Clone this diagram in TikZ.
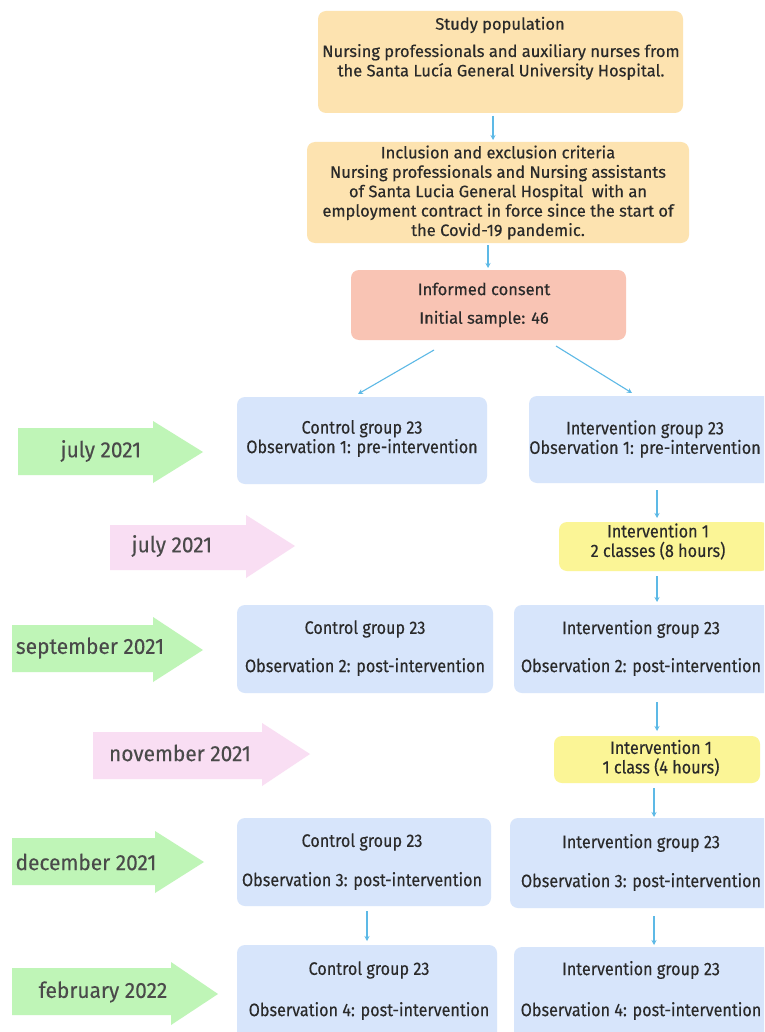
\documentclass[tikz,border=0pt]{standalone}
\usepackage{fontspec}
\setmainfont{Fira Sans}
\newfontfamily\medfont{Fira Sans}[FakeBold=0.4]
\newfontfamily\condfont{Fira Sans}[FakeStretch=0.9,FakeBold=0.25]
\newfontfamily\arrfont{Fira Sans}[FakeStretch=0.95,FakeBold=0.2]
\usetikzlibrary{arrows.meta}
\definecolor{beige}{HTML}{FDE3B0}
\definecolor{salmon}{HTML}{F9C4B4}
\definecolor{bluebox}{HTML}{D7E5FB}
\definecolor{yelbox}{HTML}{FBF596}
\definecolor{greenarr}{HTML}{BFF5B7}
\definecolor{pinkarr}{HTML}{F9DEF3}
\definecolor{connc}{HTML}{5DB9E6}
\definecolor{txtc}{HTML}{2A2A2A}
\begin{document}
\begin{tikzpicture}[x=1pt,y=-1pt,
  boxn/.style={rectangle,rounded corners=8pt,inner sep=0pt,draw=none},
  toptxt/.style={font=\medfont\fontsize{16.5}{19.4}\selectfont,text=txtc,align=center,inner sep=0pt},
  grptxt/.style={font=\condfont\fontsize{18}{19.5}\selectfont,text=txtc,align=center,inner sep=0pt},
  arrtxt/.style={font=\arrfont\fontsize{22}{24}\selectfont,text=txtc!85,inner sep=0pt},
  conn/.style={draw=connc,line width=1.1pt,-{Stealth[length=5pt,width=5pt]}}]
\useasboundingbox (0,0) rectangle (764,1032);
\clip (0,0) rectangle (764,1032);
\fill[white] (0,0) rectangle (764,1032);

% top boxes
\node[boxn,fill=beige,minimum width=365pt,minimum height=102pt] (sp) at (500.5,62) {};
\node[toptxt] (spt) at (500,25) {Study population};
\node[toptxt] (spb) at (501,62) {Nursing professionals and auxiliary nurses from\\the Santa Luc\'{\i}a General University Hospital.};

\node[boxn,fill=beige,minimum width=382pt,minimum height=101pt] (inc) at (498,192.5) {};
\node[toptxt] (inct) at (498,192.5) {Inclusion and exclusion criteria\\Nursing professionals and Nursing assistants\\of Santa Lucia General Hospital\ \ with an\\employment contract in force since the start of\\the Covid-19 pandemic.};

\node[boxn,fill=salmon,minimum width=275pt,minimum height=70pt] (ic) at (488.5,305) {};
\node[toptxt] (ict) at (484,289) {Informed consent};
\node[toptxt] (ics) at (484,319) {Initial sample: 46};

% group boxes row 1
\node[boxn,fill=bluebox,minimum width=250pt,minimum height=87pt] (c1) at (362,440.5) {};
\node[grptxt] (c1t) at (362,438.5) {Control group 23\\Observation 1: pre-intervention};
\node[boxn,fill=bluebox,minimum width=244pt,minimum height=87pt] (i1) at (651,439.5) {};
\node[grptxt] (i1t) at (645,439) {Intervention group 23\\Observation 1: pre-intervention};

% intervention 1
\node[boxn,fill=yelbox,minimum width=210pt,minimum height=49pt] (y1) at (664,546.5) {};
\node[grptxt] (y1t) at (658,541.5) {Intervention 1\\2 classes (8 hours)};

% row 2
\node[boxn,fill=bluebox,minimum width=256pt,minimum height=88pt] (c2) at (365,649) {};
\node[grptxt] (c2a) at (365,629) {Control group 23};
\node[grptxt] (c2b) at (365,667) {Observation 2: post-intervention};
\node[boxn,fill=bluebox,minimum width=268pt,minimum height=88pt] (i2) at (648,649) {};
\node[grptxt] (i2a) at (641,629) {Intervention group 23};
\node[grptxt] (i2b) at (641,667) {Observation 2: post-intervention};

% intervention 2
\node[boxn,fill=yelbox,minimum width=206pt,minimum height=47pt] (y2) at (657,759.5) {};
\node[grptxt] (y2t) at (661,758) {Intervention 1\\1 class (4 hours)};

% row 3
\node[boxn,fill=bluebox,minimum width=254pt,minimum height=88pt] (c3) at (364,862) {};
\node[grptxt] (c3a) at (362,842) {Control group 23};
\node[grptxt] (c3b) at (362,881) {Observation 3: post-intervention};
\node[boxn,fill=bluebox,minimum width=276pt,minimum height=90pt] (i3) at (648,863) {};
\node[grptxt] (i3a) at (641,843) {Intervention group 23};
\node[grptxt] (i3b) at (641,882) {Observation 3: post-intervention};

% row 4
\node[boxn,fill=bluebox,minimum width=260pt,minimum height=100pt] (c4) at (367,995) {};
\node[grptxt] (c4a) at (369,970) {Control group 23};
\node[grptxt] (c4b) at (369,1011) {Observation 4: post-intervention};
\node[boxn,fill=bluebox,minimum width=268pt,minimum height=100pt] (i4) at (648,997) {};
\node[grptxt] (i4a) at (641,970) {Intervention group 23};
\node[grptxt] (i4b) at (641,1011) {Observation 4: post-intervention};

% connectors
\coordinate (sps) at (493,116);
\coordinate (incn) at (493,140);
\draw[conn] (sps) -- (incn);
\coordinate (incs) at (488,245);
\coordinate (icn) at (488,268);
\draw[conn] (incs) -- (icn);
\coordinate (icl) at (434,350);
\coordinate (c1n) at (358,394);
\draw[conn] (icl) -- (c1n);
\coordinate (icr) at (556,346);
\coordinate (i1n) at (632,393);
\draw[conn] (icr) -- (i1n);
\coordinate (i1s) at (657,490);
\coordinate (y1n) at (657,518);
\draw[conn] (i1s) -- (y1n);
\coordinate (y1s) at (657,576);
\coordinate (i2n) at (657,602);
\draw[conn] (y1s) -- (i2n);
\coordinate (i2s) at (657,702);
\coordinate (y2n) at (657,731);
\draw[conn] (i2s) -- (y2n);
\coordinate (y2s) at (654,788);
\coordinate (i3n) at (654,817);
\draw[conn] (y2s) -- (i3n);
\coordinate (c3s) at (367,911);
\coordinate (c4n) at (367,941);
\draw[conn] (c3s) -- (c4n);
\coordinate (i3s) at (654,916);
\coordinate (i4n) at (654,945);
\draw[conn] (i3s) -- (i4n);

% timeline arrows
\fill[greenarr] (18,428) -- (153,428) -- (153,421) -- (203,452) -- (153,483) -- (153,475) -- (18,475) -- cycle;
\node[arrtxt] (g1) at (101,451) {july 2021};
\fill[pinkarr] (110,525) -- (246,525) -- (246,515) -- (295,546) -- (246,578) -- (246,570) -- (110,570) -- cycle;
\node[arrtxt] (p1) at (172,546) {july 2021};
\fill[greenarr] (12,625) -- (153,625) -- (153,617) -- (203,650) -- (153,682) -- (153,672) -- (12,672) -- cycle;
\node[arrtxt] (g2) at (90,648) {september 2021};
\fill[pinkarr] (93,732) -- (262,732) -- (262,723) -- (310,754) -- (262,786) -- (262,779) -- (93,779) -- cycle;
\node[arrtxt] (p2) at (180,753) {november 2021};
\fill[greenarr] (12,838) -- (155,838) -- (155,831) -- (204,862) -- (155,893) -- (155,885) -- (12,885) -- cycle;
\node[arrtxt] (g3) at (86,862) {december 2021};
\fill[greenarr] (12,968) -- (171,968) -- (171,962) -- (218,994) -- (171,1025) -- (171,1015) -- (12,1015) -- cycle;
\node[arrtxt] (g4) at (103,992) {february 2022};
\end{tikzpicture}
\end{document}
